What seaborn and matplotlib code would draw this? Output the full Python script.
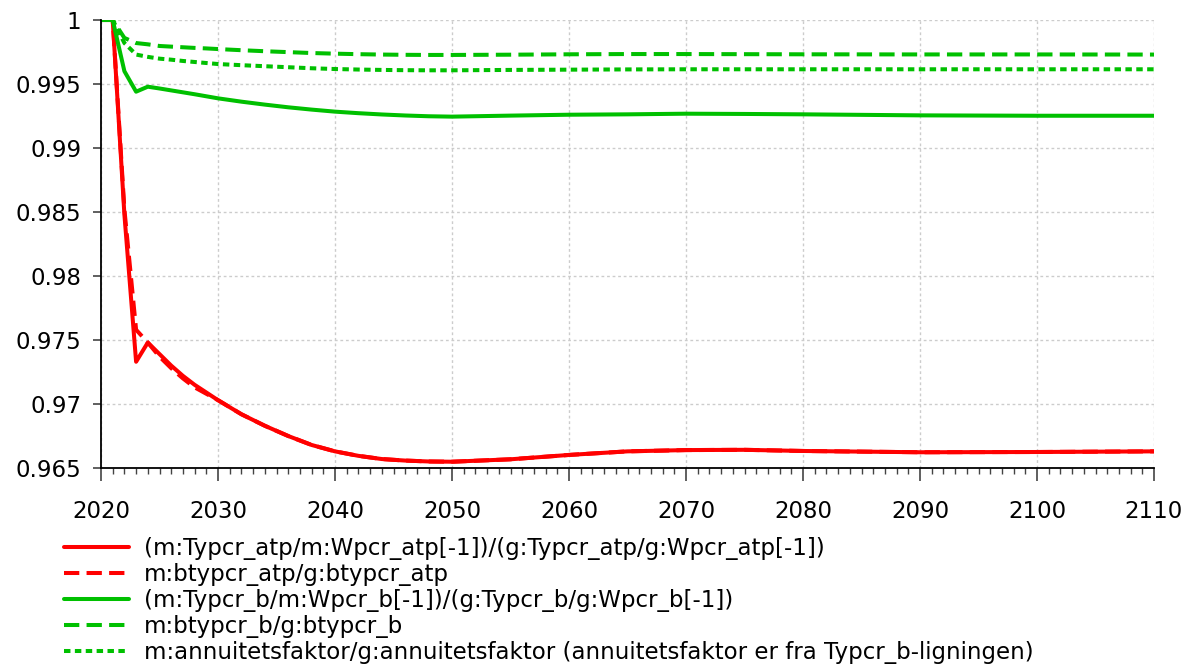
import pandas as pd
import seaborn as sns
import matplotlib.pyplot as plt
from matplotlib.ticker import MultipleLocator, FormatStrFormatter

# Data
years = [2020, 2021, 2022, 2023, 2024, 2025, 2026, 2027, 2028, 2029, 2030,
         2032, 2034, 2036, 2038, 2040, 2042, 2044, 2046, 2048, 2050,
         2055, 2060, 2065, 2070, 2075, 2080, 2090, 2100, 2110]

red_solid = [1.0, 1.0, 0.9848, 0.9733, 0.9748, 0.9739, 0.9730, 0.9722, 0.9715, 0.9709, 0.9703,
             0.9692, 0.9683, 0.9675, 0.9668, 0.9663, 0.96595, 0.9657, 0.96558, 0.96551, 0.96549,
             0.96568, 0.96602, 0.9663, 0.9664, 0.96642, 0.96633, 0.96623, 0.96625, 0.9663]
red_dashed = [1.0, 1.0, 0.9852, 0.9758, 0.9748, 0.9737, 0.9728, 0.9720, 0.9713, 0.9708, 0.9703,
              0.9692, 0.9683, 0.9675, 0.9668, 0.9663, 0.96595, 0.9657, 0.96558, 0.96551, 0.96549,
              0.96568, 0.96602, 0.9663, 0.9664, 0.96642, 0.96633, 0.96623, 0.96625, 0.9663]
green_solid = [1.0, 1.0, 0.9960, 0.9944, 0.99479, 0.99465, 0.9945, 0.99435, 0.9942, 0.99404, 0.99388,
               0.99362, 0.99339, 0.99318, 0.99300, 0.99284, 0.99272, 0.99262, 0.99254, 0.99248, 0.99245,
               0.99253, 0.9926, 0.99263, 0.99268, 0.99266, 0.99263, 0.99255, 0.99252, 0.99252]
green_dashed = [1.0, 1.0, 0.9986, 0.9982, 0.9981, 0.99797, 0.99792, 0.99787, 0.99782, 0.99778, 0.99773,
                0.99764, 0.99756, 0.99749, 0.99742, 0.99737, 0.99733, 0.9973, 0.99728, 0.99727, 0.99727,
                0.99729, 0.99732, 0.99734, 0.99734, 0.99733, 0.99732, 0.99731, 0.99731, 0.9973]
green_dotted = [1.0, 1.0, 0.9982, 0.9973, 0.99712, 0.99698, 0.9969, 0.9968, 0.99672, 0.99664, 0.99656,
                0.99647, 0.99639, 0.99631, 0.99623, 0.99617, 0.99613, 0.9961, 0.99608, 0.99607, 0.99607,
                0.9961, 0.99612, 0.99614, 0.99615, 0.99615, 0.99615, 0.99615, 0.99615, 0.99615]

labels = [
    "(m:Typcr_atp/m:Wpcr_atp[-1])/(g:Typcr_atp/g:Wpcr_atp[-1])",
    "m:btypcr_atp/g:btypcr_atp",
    "(m:Typcr_b/m:Wpcr_b[-1])/(g:Typcr_b/g:Wpcr_b[-1])",
    "m:btypcr_b/g:btypcr_b",
    "m:annuitetsfaktor/g:annuitetsfaktor (annuitetsfaktor er fra Typcr_b-ligningen)",
]

RED = "#ff0000"
GREEN = "#00c000"
series = [
    (red_solid, RED, None),
    (red_dashed, RED, (3.8, 1.8)),
    (green_solid, GREEN, None),
    (green_dashed, GREEN, (3.8, 1.8)),
    (green_dotted, GREEN, (1.6, 1.1)),
]

sns.set_theme(style="white")
plt.rcParams["font.family"] = ["DejaVu Sans"]

fig = plt.figure(figsize=(11.9, 6.68), dpi=100)
ax = fig.add_axes([101 / 1190, 1 - 468 / 668, (1154 - 101) / 1190, (468 - 20) / 668])

for (vals, color, dash), label in zip(series, labels):
    df = pd.DataFrame({"year": years, "value": vals})
    sns.lineplot(data=df, x="year", y="value", ax=ax, color=color,
                 linewidth=2.9, label=label, legend=False)
    if dash is not None:
        ax.lines[-1].set_dashes(dash)

ax.set_xlim(2020, 2110)
ax.set_ylim(0.965, 1.0)
ax.xaxis.set_major_locator(MultipleLocator(10))
ax.xaxis.set_minor_locator(MultipleLocator(1))
ax.yaxis.set_major_locator(MultipleLocator(0.005))
ax.yaxis.set_major_formatter(FormatStrFormatter("%g"))
ax.set_xlabel("")
ax.set_ylabel("")

ax.grid(True, which="major", linestyle=(0, (2, 2)), color="#cccccc", linewidth=1)
for s in ["top", "right"]:
    ax.spines[s].set_visible(False)
for s in ["left", "bottom"]:
    ax.spines[s].set_color("black")
    ax.spines[s].set_linewidth(1.3)

ax.tick_params(axis="x", which="major", direction="out", length=9, width=1.2,
               color="#444444", labelsize=16.5, labelcolor="black", pad=14, bottom=True)
ax.tick_params(axis="x", which="minor", direction="out", length=4.5, width=1,
               color="#444444", bottom=True)
ax.tick_params(axis="y", which="major", direction="out", length=6, width=1.2,
               color="#444444", labelsize=16.5, labelcolor="black", pad=8, left=True)

handles, lbls = ax.get_legend_handles_labels()
leg = fig.legend(handles, lbls, loc="upper left", bbox_to_anchor=(64 / 1190, 1 - 537 / 668),
                 frameon=False, fontsize=16.5, handlelength=2.85, handletextpad=0.65,
                 labelspacing=0.13, borderpad=0, borderaxespad=0)
for t in leg.get_texts():
    t.set_color("black")

fig.savefig("out.png", dpi=100)
